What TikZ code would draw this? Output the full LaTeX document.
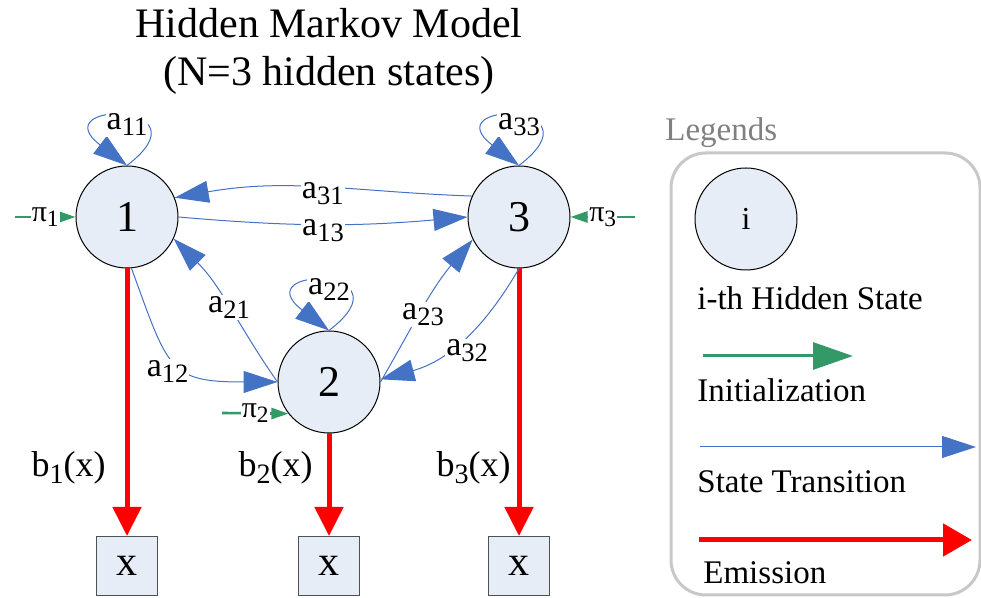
\documentclass[tikz,border=0pt]{standalone}
\usepackage{fontspec}
\setmainfont{Liberation Serif}
\usetikzlibrary{arrows.meta}
\definecolor{nodefill}{RGB}{231,237,246}
\definecolor{transblue}{RGB}{68,114,196}
\definecolor{initgreen}{RGB}{51,153,102}
\definecolor{framegray}{RGB}{200,200,200}
\definecolor{textgray}{RGB}{128,128,128}
\definecolor{boxline}{RGB}{80,80,80}
\newcommand{\hsub}[1]{\raisebox{-0.4ex}{\scalebox{0.78}{#1}}}
\begin{document}
\begin{tikzpicture}
[x=0.5pt,y=0.5pt,
 statedecorate/.style={shape=circle,draw,fill=nodefill,line width=0.5pt,
  minimum size=51pt,inner sep=0pt,font=\fontsize{22}{26}\selectfont},
 obsdecorate/.style={shape=rectangle,draw=boxline,fill=nodefill,line width=0.5pt,
  minimum width=30.5pt,minimum height=29.5pt,inner sep=0pt,font=\fontsize{21}{22}\selectfont},
 translinedecorate/.style={draw=transblue,line width=0.5pt,
  -{Triangle[length=17pt,width=11pt,fill=transblue]}},
 emitlinedecorate/.style={draw=red,line width=2.5pt,
  -{Triangle[length=14.5pt,width=14pt,fill=red]}},
 initlinedecorate/.style={draw=initgreen,line width=1.3pt,
  -{Triangle[length=8.5pt,width=5.5pt,fill=initgreen]}},
 labeldecorate/.style={fill=white,inner sep=0.5pt,font=\fontsize{17}{20}\selectfont},
 pidecorate/.style={fill=white,inner sep=0.5pt,font=\fontsize{15}{18}\selectfont},
 textdecorate/.style={anchor=west,inner sep=0pt,font=\fontsize{16.5}{19}\selectfont}]
\useasboundingbox (0,0) rectangle (981,598);
%% title
\node (title) at (329,547) [align=center,font=\fontsize{21}{24}\selectfont]
  {Hidden Markov Model\\(N=3 hidden states)};
%% hidden states
\foreach \nodename/\x/\y/\txt in {n1/127/381/1, n2/329/216/2, n3/519/381/3} {
  \node (\nodename) at (\x,\y) [statedecorate] {\txt};
}
%% observations
\foreach \nodename/\x in {o1/127, o2/329, o3/519} {
  \node (\nodename) at (\x,32) [obsdecorate] {x};
}
%% emissions
\path
\foreach \startnode/\endnode in {n1/o1, n2/o2, n3/o3} {
  (\startnode) edge[emitlinedecorate] (\endnode)
};
\foreach \nodename/\x/\i in {b1/106/1, b2/313/2, b3/511/3} {
  \node (\nodename) at (\x,130) [anchor=east,inner sep=0pt,
    font=\fontsize{18}{20}\selectfont] {b\hsub{\i}(x)};
}
%% initial probabilities
\coordinate (p1) at (15,381);
\coordinate (p2) at (222,185);
\coordinate (p3) at (635,381);
\draw[initlinedecorate] (p1) -- node[pidecorate] {π\hsub{1}} (n1.west);
\draw[initlinedecorate] (p2) -- node[pidecorate] {π\hsub{2}} (n2.-142);
\draw[initlinedecorate] (p3) -- node[pidecorate] {π\hsub{3}} (n3.east);
%% self transitions
\foreach \nodename/\i in {n1/11, n2/22, n3/33} {
  \draw[translinedecorate] (\nodename.north) .. controls +(85,65) and +(-85,65) ..
    node[labeldecorate,yshift=-4pt] {a\hsub{\i}} (\nodename.north);
}
%% transitions between states
\draw[translinedecorate] (n3.156) to[out=178,in=10]
  node[labeldecorate,yshift=-3pt] {a\hsub{31}} (n1.22);
\draw[translinedecorate] (n1.east) to[out=-5,in=185]
  node[labeldecorate,yshift=-3pt] {a\hsub{13}} (n3.west);
\draw[translinedecorate] (n1.-85) to[out=-70,in=180,looseness=1.5]
  node[labeldecorate,xshift=-5pt,yshift=-4pt] {a\hsub{12}} (n2.west);
\draw[translinedecorate] (n2.west) to[out=125,in=-45]
  node[labeldecorate] {a\hsub{21}} (n1.-25);
\draw[translinedecorate] (n2.east) to[out=60,in=-130]
  node[labeldecorate,yshift=-3pt] {a\hsub{23}} (n3.-154);
\draw[translinedecorate] (n3.south) to[out=-120,in=15]
  node[labeldecorate,pos=0.55,xshift=6pt,yshift=-3pt] {a\hsub{32}} (n2.3);
%% legends
\node (legtitle) at (665,465) [textdecorate,text=textgray] {Legends};
\draw[framegray,line width=1.5pt,rounded corners=17.5pt] (671,3) rectangle (980,445);
\node (legstate) at (746,379) [statedecorate,font=\fontsize{16}{19}\selectfont] {i};
\node (legstatetxt) at (697,300) [textdecorate] {i-th Hidden State};
\coordinate (g0) at (703,242);
\coordinate (g1) at (853,242);
\draw[draw=initgreen,line width=1.5pt,-{Triangle[length=20pt,width=13.5pt,fill=initgreen]}] (g0) -- (g1);
\node (leginittxt) at (697,208) [textdecorate] {Initialization};
\coordinate (t0) at (700,151);
\coordinate (t1) at (976,151);
\draw[translinedecorate] (t0) -- (t1);
\node (legtranstxt) at (697,116) [textdecorate] {State Transition};
\coordinate (e0) at (699,58);
\coordinate (e1) at (972,58);
\draw[draw=red,line width=2.5pt,-{Triangle[length=14.5pt,width=16pt,fill=red]}] (e0) -- (e1);
\node (legemittxt) at (703,25) [textdecorate] {Emission};
\end{tikzpicture}
\end{document}
